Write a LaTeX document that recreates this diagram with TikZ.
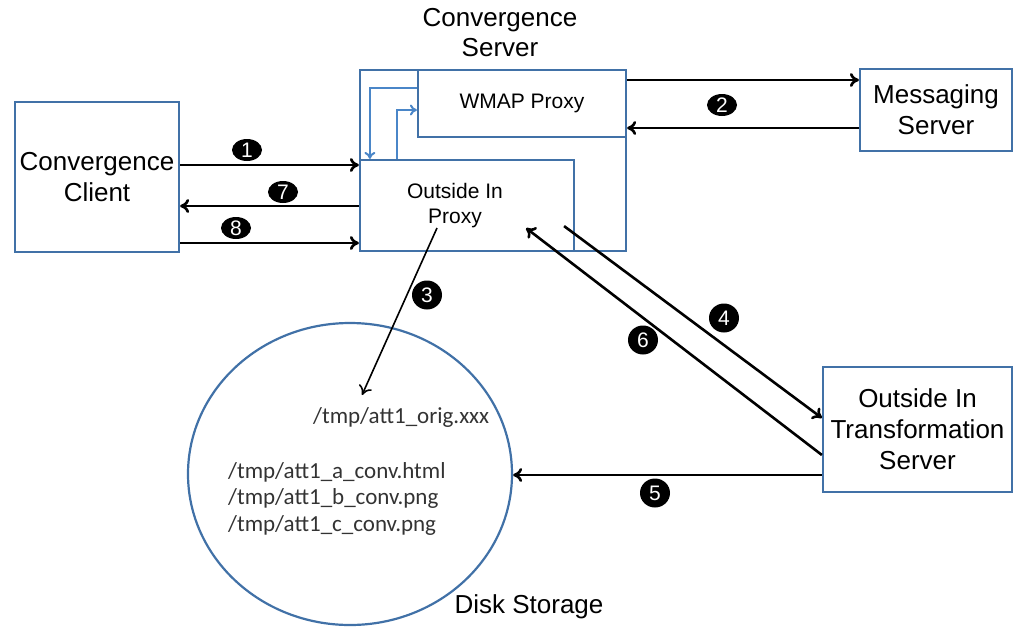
\documentclass[tikz,border=0pt]{standalone}
\usepackage{fontspec}
\setmainfont{Liberation Sans}
\newfontfamily\pathfont{Carlito}
\usetikzlibrary{arrows.meta,%
                shapes.geometric,positioning}
\definecolor{boxblue}{RGB}{65,113,167}
\definecolor{linkblue}{RGB}{74,134,200}
\tikzset{
  box/.style={draw=boxblue, line width=2.2pt, inner sep=0pt, align=center, font=\fontsize{26}{31}\selectfont},
  smallbox/.style={box, font=\fontsize{21}{25}\selectfont},
  num/.style={ellipse, fill=black, text=white, inner sep=0pt, minimum width=30pt, minimum height=29pt, font=\fontsize{21}{21}\selectfont},
  flatnum/.style={num, minimum height=22pt},
  flow/.style={-{To[length=9pt,width=14pt]}, line width=2.6pt},
  bluelink/.style={-{To[length=7pt,width=11pt]}, draw=linkblue, line width=2pt},
  pathtext/.style={anchor=west, inner sep=0pt, font=\pathfont\fontsize{23}{26}\selectfont, text=black!80}
}
\begin{document}
\begin{tikzpicture}[x=1pt,y=-1pt]
\useasboundingbox (0,0) rectangle (1015,627);
\node[box, minimum width=164pt, minimum height=150pt] (client) at (97,177) {Convergence\\Client};
\node[box, minimum width=266pt, minimum height=181pt] (server) at (493,160.5) {};
\node[smallbox, minimum width=208pt, minimum height=67pt] (wmap) at (522,103.5) {WMAP Proxy};
\node[smallbox, minimum width=214pt, minimum height=91pt] (oiproxy) at (467,205.5) {Outside In\hspace*{24pt}\\Proxy\hspace*{24pt}};
\node[box, minimum width=152pt, minimum height=82pt] (msg) at (936,110) {Messaging\\Server};
\node[box, minimum width=189pt, minimum height=125pt] (oits) at (917.5,429.5) {Outside In\\Transformation\\Server};
\node[ellipse, draw=boxblue, line width=2.2pt, inner sep=0pt, minimum width=324pt, minimum height=302pt] (disk) at (350,474) {};
\node[align=center, font=\fontsize{26}{30}\selectfont] (srvlabel) at (500,33) {Convergence\\Server};
\node[font=\fontsize{26}{30}\selectfont] (disklabel) at (529,607) {Disk Storage};
\node[pathtext] (orig) at (313,417) {/tmp/att1\_orig.xxx};
\node[pathtext] (conva) at (228,472) {/tmp/att1\_a\_conv.html};
\node[pathtext] (convb) at (228,498) {/tmp/att1\_b\_conv.png};
\node[pathtext] (convc) at (228,525) {/tmp/att1\_c\_conv.png};

\draw[flow] ([yshift=12pt]client.east) -- ([yshift=12pt]client.east -| oiproxy.west);
\draw[flow] ([yshift=-29pt]client.east -| oiproxy.west) -- ([yshift=-29pt]client.east);
\draw[flow] ([yshift=-66pt]client.east) -- ([yshift=-66pt]client.east -| oiproxy.west);
\draw[flow] ([yshift=23.5pt]wmap.east) -- ([yshift=23.5pt]wmap.east -| msg.west);
\draw[flow] ([yshift=-18pt]msg.west) -- ([yshift=-18pt]msg.west -| wmap.east);
\draw[flow, line width=1.6pt] ([xshift=-30pt,yshift=-22.5pt]oiproxy.center) -- ([xshift=12pt,yshift=79pt]disk.center);
\draw[flow] ([xshift=-11pt,yshift=26pt]oiproxy.south east) -- ([yshift=11.5pt]oits.west);
\draw[flow] ([yshift=-45.5pt]oits.west) -- ([yshift=-45.5pt]oits.west -| disk.east);
\draw[flow] ([yshift=-25.5pt]oits.west) -- ([xshift=-49pt,yshift=24pt]oiproxy.south east);

\draw[bluelink] ([yshift=15.5pt]wmap.west) -| ([xshift=11pt]oiproxy.north west);
\draw[bluelink] ([xshift=38pt]oiproxy.north west) |- ([yshift=-6.5pt]wmap.west);

\node[flatnum] (n1) at (247,150) {1};
\node[flatnum] (n2) at (722,105) {2};
\node[num] (n3) at (427,295) {3};
\node[num] (n4) at (724,318) {4};
\node[num] (n5) at (655,493) {5};
\node[num] (n6) at (643,340) {6};
\node[flatnum] (n7) at (283,192) {7};
\node[flatnum] (n8) at (236,228) {8};
\end{tikzpicture}
\end{document}
